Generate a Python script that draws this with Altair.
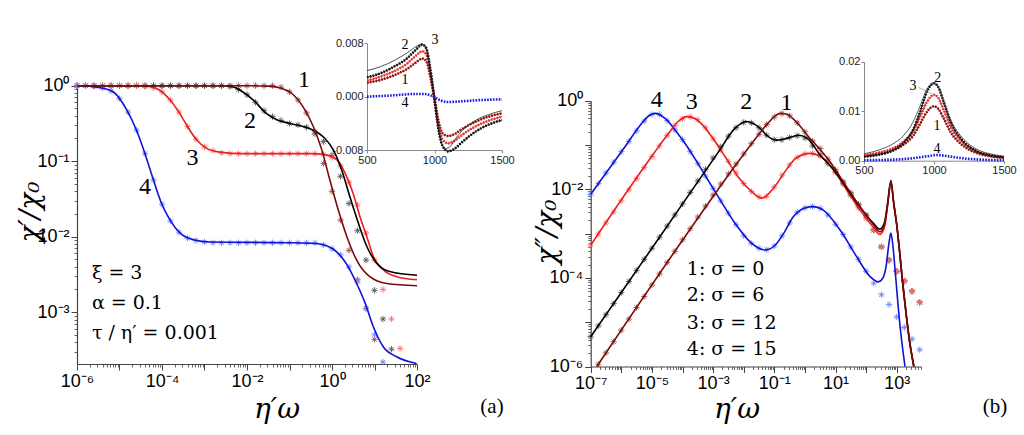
import altair as alt
import pandas as pd

SERIF = "Liberation Serif, Times New Roman, Times, serif"
GREEK = "DejaVu Serif, serif"
SANS = "Liberation Sans, Arial, sans-serif"
AX = "#444444"
IAX = "#8a8a8a"

# curve colours (lines) and asterisk colours
LC = {1: "#7a0a0a", 2: "#000000", 3: "#ee1c1c", 4: "#1010d8"}
PC = {1: "#a0544c", 2: "#5a5a5a", 3: "#ff6f6f", 4: "#6d88ff"}
DC = {1: "#8b1010", 2: "#111111", 3: "#e43030", 4: "#1a1ae0"}
AST = "M-1,0L1,0M0,-1L0,1M-0.7,-0.7L0.7,0.7M-0.7,0.7L0.7,-0.7"

# ---------------- Panel (a): log10(eta' omega) / log10(chi'/chi0)
A_L = {
    1: ([-6.0, -2.0, -1.5, -1.22, -0.91, -0.68, -0.44, -0.24, -0.05, 0.15, 0.35, 0.58, 0.89, 1.29, 2.0],
        [0.0, 0.0, -0.005, -0.03, -0.12, -0.28, -0.54, -0.85, -1.25, -1.65, -2.0, -2.31, -2.53, -2.62, -2.65]),
    2: ([-6.0, -2.6, -2.3, -2.16, -1.85, -1.54, -1.30, -0.99, -0.68, -0.44, -0.20, 0.03, 0.23, 0.42, 0.62, 0.82, 1.05, 1.36, 2.0],
        [0.0, 0.0, -0.02, -0.06, -0.19, -0.37, -0.45, -0.50, -0.54, -0.59, -0.68, -0.85, -1.12, -1.47, -1.82, -2.13, -2.35, -2.46, -2.51]),
    3: ([-6.0, -4.5, -4.3, -4.05, -3.81, -3.58, -3.38, -3.18, -2.95, -2.64, -2.09, -0.5, -0.2, 0.11, 0.31, 0.50, 0.66, 0.82, 0.97, 1.21, 1.52, 2.0],
        [0.0, 0.0, -0.01, -0.06, -0.19, -0.37, -0.56, -0.72, -0.83, -0.88, -0.90, -0.90, -0.91, -0.98, -1.16, -1.43, -1.74, -2.0, -2.26, -2.44, -2.53, -2.57]),
    4: ([-6.0, -5.7, -5.42, -5.15, -4.83, -4.60, -4.40, -4.20, -4.01, -3.81, -3.58, -3.26, -2.87, -1.0, -0.4, -0.125, 0.11, 0.35, 0.58, 0.78, 0.97, 1.21, 1.52, 1.99],
        [0.0, -0.005, -0.03, -0.08, -0.32, -0.59, -0.90, -1.25, -1.56, -1.78, -1.95, -2.04, -2.07, -2.08, -2.09, -2.12, -2.20, -2.37, -2.62, -2.88, -3.19, -3.46, -3.59, -3.68]),
}
A_PX = [-6.0, -5.8, -5.6, -5.4, -5.2, -5.0, -4.8, -4.6, -4.4, -4.2, -4.0, -3.8, -3.6, -3.4, -3.2, -3.0, -2.8,
        -2.6, -2.4, -2.2, -2.0, -1.8, -1.6, -1.4, -1.2, -1.0, -0.8, -0.6, -0.4, -0.2, 0.0, 0.2, 0.4, 0.6, 0.8,
        1.0, 1.2, 1.4, 1.6, 1.8, 2.0]
A_P = {
    1: [0.0] * 24 + [-0.02, -0.08, -0.19, -0.36, -0.64, -1.03, -1.40, -1.78, -2.18, -2.57, -2.95, -3.36] + [None] * 5,
    2: [0.0] * 18 + [-0.01, -0.05, -0.12, -0.22, -0.33, -0.41, -0.46, -0.50, -0.52, -0.55, -0.61, -0.74, -0.92,
                     -1.20, -1.56, -1.92, -2.31, -2.71, -3.09, -3.49] + [None] * 3,
    3: [0.0] * 8 + [-0.01, -0.03, -0.08, -0.19, -0.35, -0.54, -0.71, -0.81, -0.86, -0.89] + [-0.90] * 11
       + [-0.91, -0.95, -1.06, -1.28, -1.58, -1.95, -2.31, -2.70, -3.09, -3.48] + [None] * 2,
    4: [0.0, 0.0, -0.01, -0.03, -0.07, -0.17, -0.35, -0.59, -0.90, -1.25, -1.57, -1.79, -1.94, -2.02, -2.05, -2.07]
       + [-2.08] * 13 + [-2.11, -2.16, -2.24, -2.40, -2.60, -2.95, -3.30, -3.66] + [None] * 4,
}

# ---------------- Panel (b): log10(eta' omega) / log10(chi''/chi0)
B_L = {
    1: ([-6.80, -3.92, -2.28, -1.6, -1.2, -0.95, -0.81, -0.6, -0.4, -0.16, 0.1, 0.3, 0.82, 1.37, 1.91, 2.3, 2.45, 2.6, 2.7, 2.81, 2.9, 3.0, 3.22, 3.43, 3.56],
        [-6.0, -3.07, -1.47, -0.84, -0.5, -0.33, -0.285, -0.3, -0.4, -0.57, -0.8, -0.95, -1.38, -1.95, -2.5, -2.85, -2.96, -2.8, -2.35, -1.82, -2.3, -2.8, -4.27, -5.48, -6.0]),
    2: ([-7.0, -2.83, -2.28, -2.05, -1.90, -1.65, -1.41, -1.25, -0.92, -0.59, -0.2, 0.1, 0.49, 0.93, 1.37, 1.80, 2.24, 2.45, 2.6, 2.7, 2.81, 2.9, 3.0, 3.22, 3.43, 3.56],
        [-5.33, -1.16, -0.62, -0.5, -0.47, -0.53, -0.66, -0.78, -0.89, -0.85, -0.78, -0.86, -1.22, -1.55, -1.98, -2.40, -2.77, -2.90, -2.75, -2.33, -1.80, -2.3, -2.8, -4.27, -5.48, -6.0]),
    3: ([-7.0, -5.01, -4.46, -4.14, -3.86, -3.6, -3.3, -3.05, -2.61, -2.18, -1.74, -1.41, -1.0, -0.6, -0.3, 0.17, 0.49, 0.93, 1.37, 1.80, 2.24, 2.45, 2.6, 2.7, 2.81, 2.9, 3.0, 3.22, 3.43, 3.56],
        [-3.26, -1.26, -0.74, -0.47, -0.36, -0.40, -0.58, -0.81, -1.26, -1.72, -2.05, -2.20, -1.95, -1.55, -1.3, -1.19, -1.25, -1.56, -2.02, -2.47, -2.86, -3.02, -2.85, -2.38, -1.85, -2.3, -2.8, -4.27, -5.48, -6.0]),
    4: ([-7.0, -5.88, -5.33, -5.1, -4.9, -4.57, -4.2, -3.92, -3.37, -2.83, -2.28, -1.74, -1.30, -1.0, -0.7, -0.38, 0.0, 0.27, 0.6, 1.15, 1.69, 2.13, 2.40, 2.55, 2.65, 2.75, 2.81, 2.88, 2.95, 3.10, 3.27],
        [-2.11, -1.04, -0.51, -0.34, -0.285, -0.40, -0.70, -0.96, -1.56, -2.17, -2.77, -3.22, -3.37, -3.28, -3.0, -2.62, -2.42, -2.39, -2.47, -2.92, -3.52, -3.97, -4.09, -4.0, -3.75, -3.2, -2.99, -3.3, -3.85, -5.03, -6.0]),
}
B_PX = [-7.0, -6.75, -6.5, -6.25, -6.0, -5.75, -5.5, -5.25, -5.0, -4.75, -4.5, -4.25, -4.0, -3.75, -3.5, -3.25,
        -3.0, -2.75, -2.5, -2.25, -2.0, -1.75, -1.5, -1.25, -1.0, -0.75, -0.5, -0.25, 0.0, 0.25, 0.5, 0.75,
        1.0, 1.25, 1.5, 1.75, 2.0, 2.25, 2.5, 2.75, 3.0, 3.25, 3.5, 3.75]
B_P = {
    1: [None, -5.95, -5.69, -5.44, -5.18, -4.93, -4.67, -4.42, -4.16, -3.91, -3.65, -3.40, -3.14, -2.89, -2.63,
        -2.38, -2.13, -1.88, -1.65, -1.43, -1.20, -0.97, -0.76, -0.54, -0.37, -0.29, -0.34, -0.50, -0.70, -0.91,
        -1.08, -1.32, -1.56, -1.83, -2.08, -2.34, -2.60, -2.92, -3.30, -3.60, -3.85, -4.07, -4.30, -4.55],
    2: [-5.33, -5.08, -4.83, -4.58, -4.33, -4.08, -3.83, -3.58, -3.33, -3.08, -2.83, -2.58, -2.33, -2.07, -1.81,
        -1.55, -1.29, -1.04, -0.80, -0.61, -0.49, -0.50, -0.61, -0.78, -0.88, -0.88, -0.83, -0.79, -0.84, -1.02,
        -1.22, -1.41, -1.61, -1.86, -2.11, -2.36, -2.58, -2.92, -3.30, -3.60, -3.85, -4.07, -4.30, -4.55],
    3: [-3.26, -3.01, -2.76, -2.51, -2.26, -2.01, -1.76, -1.51, -1.26, -1.02, -0.78, -0.56, -0.41, -0.36, -0.43,
        -0.61, -0.86, -1.11, -1.37, -1.63, -1.87, -2.05, -2.17, -2.16, -1.95, -1.68, -1.45, -1.28, -1.20, -1.19,
        -1.25, -1.42, -1.62, -1.88, -2.14, -2.42, -2.66, -2.92, -3.30, -3.60, -3.85, -4.07, -4.30, -4.55],
    4: [-2.11, -1.87, -1.63, -1.39, -1.15, -0.92, -0.68, -0.46, -0.31, -0.31, -0.45, -0.66, -0.88, -1.15, -1.42,
        -1.70, -1.98, -2.26, -2.54, -2.80, -3.05, -3.22, -3.33, -3.36, -3.28, -3.05, -2.76, -2.52, -2.42, -2.39,
        -2.43, -2.58, -2.79, -3.02, -3.30, -3.58, -3.85, -4.12, -4.38, -4.60, -4.88, -5.12, -5.38, -5.62],
}

# ---------------- Inset (a): chi' vs frequency
IA_X = [500, 600, 700, 800, 860, 910, 940, 970, 1000, 1030, 1060, 1100, 1150, 1200, 1300, 1400, 1500]
IA_D = {
    2: [0.0029, 0.0035, 0.0045, 0.0058, 0.0070, 0.0078, 0.0072, 0.0040, -0.0005, -0.0050, -0.0074, -0.0082, -0.0078, -0.0069, -0.0053, -0.0042, -0.0035],
    3: [0.0024, 0.0030, 0.0038, 0.0050, 0.0061, 0.0068, 0.0063, 0.0035, -0.0004, -0.0043, -0.0064, -0.0070, -0.0066, -0.0058, -0.0045, -0.0036, -0.0030],
    1: [0.0021, 0.0025, 0.0032, 0.0042, 0.0051, 0.0057, 0.0053, 0.0029, -0.0003, -0.0037, -0.0055, -0.0059, -0.0056, -0.0049, -0.0038, -0.0030, -0.0025],
}
IA_T2_X = [500, 600, 700, 800, 870, 905, 935, 965, 1000, 1035, 1080, 1120, 1160, 1200, 1300, 1400, 1500]
IA_T2_Y = [0.0039, 0.0045, 0.0054, 0.0066, 0.0076, 0.0079, 0.0074, 0.0045, -0.0003, -0.0055, -0.0078, -0.0074, -0.0062, -0.0052, -0.0036, -0.0027, -0.0021]
IA_4_X = [500, 700, 850, 920, 970, 1000, 1050, 1100, 1200, 1350, 1500]
IA_4_Y = [0.0, 0.0002, 0.0004, 0.0004, 0.0002, -0.0001, -0.0006, -0.0008, -0.0007, -0.0005, -0.0004]

# ---------------- Inset (b): chi'' vs frequency
IB_X = [500, 600, 700, 780, 850, 900, 950, 1000, 1030, 1070, 1120, 1200, 1300, 1400, 1500]
IB_D = {
    2: [0.0008, 0.0012, 0.0020, 0.0035, 0.0062, 0.0098, 0.0140, 0.0156, 0.0149, 0.0118, 0.0078, 0.0042, 0.0020, 0.0011, 0.0007],
    3: [0.0011, 0.0016, 0.0024, 0.0038, 0.0060, 0.0088, 0.0119, 0.0133, 0.0127, 0.0102, 0.0068, 0.0038, 0.0019, 0.0010, 0.0007],
    1: [0.0009, 0.0013, 0.0020, 0.0032, 0.0050, 0.0074, 0.0099, 0.0110, 0.0105, 0.0085, 0.0057, 0.0032, 0.0016, 0.0009, 0.0006],
}
IB_T2_Y = [0.0014, 0.0021, 0.0033, 0.0050, 0.0078, 0.0110, 0.0145, 0.0158, 0.0150, 0.0120, 0.0082, 0.0047, 0.0024, 0.0014, 0.0009]
IB_4_X = [500, 700, 850, 950, 1020, 1100, 1200, 1350, 1500]
IB_4_Y = [0.0001, 0.0002, 0.0005, 0.0009, 0.00115, 0.0009, 0.0005, 0.0002, 0.0001]

# ---------------- tick labels
A_XE = [-6, -5, -4, -3, -2, -1, 0, 1, 2]
A_XLAB = ["10⁻⁶", "", "10⁻⁴", "", "10⁻²", "", "10⁰", "", "10²"]
A_YE = [-3, -2, -1, 0]
A_YLAB = ["10⁻³", "10⁻²", "10⁻¹", "10⁰"]
B_XE = [-7, -6, -5, -4, -3, -2, -1, 0, 1, 2, 3]
B_XLAB = ["10⁻⁷", "", "10⁻⁵", "", "10⁻³", "", "10⁻¹", "", "10¹", "", "10³"]
B_YE = [-6, -5, -4, -3, -2, -1, 0]
B_YLAB = ["10⁻⁶", "", "10⁻⁴", "", "10⁻²", "", "10⁰"]
IA_YV, IA_YLAB = [-0.008, 0.0, 0.008], ["-0.008", "0.000", "0.008"]
IA_XV, IA_XLAB = [500, 1000, 1500], ["500", "1000", "1500"]
IB_YV, IB_YLAB = [0.0, 0.01, 0.02], ["0.00", "0.01", "0.02"]

# ---------------- annotation texts (in data coordinates of each panel)
A_CURVE_T = ["1", "2", "3", "4"]
A_CURVE_LX = [-0.66, -1.93, -3.28, -4.40]
A_CURVE_LY = [0.075, -0.468, -0.958, -1.338]
A_PAR_T = ["ξ = 3", "α = 0.1", "τ / η′ = 0.001"]
A_PAR_LX = [-5.65, -5.65, -5.65]
A_PAR_LY = [-2.48, -2.88, -3.275]
B_CURVE_T = ["4", "3", "2", "1"]
B_CURVE_LX = [-4.84, -3.70, -1.92, -0.60]
B_CURVE_LY = [0.016, -0.023, -0.023, -0.059]
B_SIG_T = ["1: σ = 0", "2: σ = 6", "3: σ = 12", "4: σ = 15"]
B_SIG_LX = [-3.86, -3.86, -3.86, -3.86]
B_SIG_LY = [-3.80, -4.39, -5.02, -5.61]
IA_T = ["2", "3", "1", "4"]
IA_TX = [781, 1004, 781, 781]
IA_TY = [0.0077, 0.0085, 0.0025, -0.0009]
IB_T = ["2", "3", "1", "4"]
IB_TX = [1026, 850, 1021, 1021]
IB_TY = [0.0168, 0.0151, 0.0070, 0.0024]

# ---------------- scales (pixel ranges inside the 1024x435 canvas)
SA_X = alt.Scale(type="log", domain=[1e-6, 1e2], range=[77, 417], nice=False)
SA_Y = alt.Scale(type="log", domain=[10 ** -3.686, 1.0], range=[364, 85.7], nice=False)
SB_X = alt.Scale(type="log", domain=[1e-7, 10 ** 3.8], range=[590.7, 921.2], nice=False)
SB_Y = alt.Scale(type="log", domain=[1e-6, 1.0], range=[366.5, 100.7], nice=False)
SIA_X = alt.Scale(type="linear", domain=[500, 1500], range=[367, 502], nice=False, zero=False)
SIA_Y = alt.Scale(type="linear", domain=[-0.008, 0.008], range=[150, 43.3], nice=False, zero=False)
SIB_X = alt.Scale(type="linear", domain=[500, 1500], range=[864, 1004], nice=False, zero=False)
SIB_Y = alt.Scale(type="linear", domain=[0, 0.02], range=[160.7, 61.7], nice=False, zero=False)
H = 435


def chain(conds, labels):
    return "".join(f"{c} ? '{l}' : " for c, l in zip(conds, labels)) + "''"


def log_axis(orient, offset, exps, labels):
    expr = chain([f"round(log(datum.value)/LN10) == {e}" for e in exps], labels)
    return alt.Axis(orient=orient, offset=offset, values=[10.0 ** e for e in exps], labelExpr=expr,
                    title=None, grid=False, tickSize=6, tickWidth=1, tickColor=AX, domainColor=AX,
                    domainWidth=1.2, labelFont=SANS, labelFontSize=18, labelColor="black", labelPadding=2,
                    labelFlush=False, labelOverlap=False, labelBound=False)


def minor_axis(orient, offset, lo, hi):
    vals = []
    for e in range(-8, 5):
        for k in range(2, 10):
            v = k * 10.0 ** e
            if lo < v < hi:
                vals.append(v)
    return alt.Axis(orient=orient, offset=offset, values=vals, labels=False, domain=False, title=None,
                    grid=False, tickSize=3, tickWidth=0.8, tickColor=AX)


def lin_axis(orient, offset, vals, labels):
    expr = chain([f"abs(datum.value - ({v})) < 1e-9" for v in vals], labels)
    return alt.Axis(orient=orient, offset=offset, values=vals, labelExpr=expr, title=None, grid=False,
                    tickSize=3, tickColor=IAX, domainColor=IAX, domainWidth=1, labelFont=SANS,
                    labelFontSize=11, labelColor="#222222", labelPadding=1, labelFlush=False,
                    labelOverlap=False, labelBound=False)


def enc(sx, sy, ax=None, ay=None):
    return dict(x=alt.X("x:Q", scale=sx, axis=ax), y=alt.Y("y:Q", scale=sy, axis=ay))


def logdf(lx, ly):
    rows = [{"x": 10.0 ** a, "y": 10.0 ** b} for a, b in zip(lx, ly) if b is not None]
    return pd.DataFrame(rows)


def txtdf(t, xs, ys, logv=False):
    if logv:
        xs = [10.0 ** v for v in xs]
        ys = [10.0 ** v for v in ys]
    return pd.DataFrame({"t": t, "x": xs, "y": ys})


def text_layer(df, sx, sy, size, align="center", font=SERIF, color="black"):
    return alt.Chart(df).mark_text(font=font, fontSize=size, align=align, baseline="middle", color=color).encode(
        x=alt.X("x:Q", scale=sx, axis=None), y=alt.Y("y:Q", scale=sy, axis=None), text="t:N")


def fixed_text(t, px, py, size, angle=0, style="normal", font=SERIF):
    return alt.Chart(pd.DataFrame({"t": [t]})).mark_text(
        font=font, fontSize=size, fontStyle=style, angle=angle, align="center", baseline="middle",
        color="black").encode(x=alt.value(px), y=alt.value(py), text="t:N")


layers = []

# ---------- panel (a)
for c in [1, 2, 3, 4]:
    assert len(A_PX) == len(A_P[c])
    ax = minor_axis("bottom", 364 - H, 1e-6, 1e2) if c == 1 else None
    ay = minor_axis("left", -77, 10 ** -3.686, 1.0) if c == 1 else None
    layers.append(alt.Chart(logdf(A_PX, A_P[c])).mark_point(
        shape=AST, size=40, filled=False, strokeWidth=0.9, color=PC[c], opacity=1).encode(**enc(SA_X, SA_Y, ax, ay)))
for c in [4, 3, 2, 1]:
    ax = log_axis("bottom", 364 - H, A_XE, A_XLAB) if c == 4 else None
    ay = log_axis("left", -77, A_YE, A_YLAB) if c == 4 else None
    layers.append(alt.Chart(logdf(*A_L[c])).mark_line(
        interpolate="monotone", strokeWidth=1.6, color=LC[c]).encode(**enc(SA_X, SA_Y, ax, ay)))
layers.append(text_layer(txtdf(A_CURVE_T, A_CURVE_LX, A_CURVE_LY, True), SA_X, SA_Y, 24))
layers.append(text_layer(txtdf(A_PAR_T, A_PAR_LX, A_PAR_LY, True), SA_X, SA_Y, 19, align="left", font=GREEK))

# ---------- panel (b)
for c in [1, 2, 3, 4]:
    assert len(B_PX) == len(B_P[c])
    ax = minor_axis("bottom", 366.5 - H, 1e-7, 10 ** 3.8) if c == 1 else None
    ay = minor_axis("left", -590.7, 1e-6, 1.0) if c == 1 else None
    layers.append(alt.Chart(logdf(B_PX, B_P[c])).mark_point(
        shape=AST, size=40, filled=False, strokeWidth=0.9, color=PC[c], opacity=1).encode(**enc(SB_X, SB_Y, ax, ay)))
for c in [4, 3, 2, 1]:
    ax = log_axis("bottom", 366.5 - H, B_XE, B_XLAB) if c == 4 else None
    ay = log_axis("left", -590.7, B_YE, B_YLAB) if c == 4 else None
    layers.append(alt.Chart(logdf(*B_L[c])).mark_line(
        interpolate="monotone", strokeWidth=1.6, color=LC[c]).encode(**enc(SB_X, SB_Y, ax, ay)))
layers.append(text_layer(txtdf(B_CURVE_T, B_CURVE_LX, B_CURVE_LY, True), SB_X, SB_Y, 24))
layers.append(text_layer(txtdf(B_SIG_T, B_SIG_LX, B_SIG_LY, True), SB_X, SB_Y, 19, align="left", font=GREEK))

# ---------- inset (a)
first = True
for c in [1, 3, 2]:
    ax = lin_axis("bottom", 150 - H, IA_XV, IA_XLAB) if first else None
    ay = lin_axis("left", -367, IA_YV, IA_YLAB) if first else None
    first = False
    df = pd.DataFrame({"x": IA_X, "y": IA_D[c]})
    layers.append(alt.Chart(df).mark_line(interpolate="monotone", strokeWidth=0.8, color=LC[c]).encode(
        **enc(SIA_X, SIA_Y, ax, ay)))
    layers.append(alt.Chart(df).mark_line(interpolate="monotone", strokeWidth=2.6, strokeDash=[1.6, 1.3],
                                          color=DC[c]).encode(**enc(SIA_X, SIA_Y)))
layers.append(alt.Chart(pd.DataFrame({"x": IA_T2_X, "y": IA_T2_Y})).mark_line(
    interpolate="monotone", strokeWidth=0.8, color="#222222").encode(**enc(SIA_X, SIA_Y)))
layers.append(alt.Chart(pd.DataFrame({"x": IA_4_X, "y": IA_4_Y})).mark_line(
    interpolate="monotone", strokeWidth=2.6, strokeDash=[1.6, 1.3], color=DC[4]).encode(**enc(SIA_X, SIA_Y)))
layers.append(text_layer(txtdf(IA_T, IA_TX, IA_TY), SIA_X, SIA_Y, 14))

# ---------- inset (b)
first = True
for c in [1, 3, 2]:
    ax = lin_axis("bottom", 160.7 - H, IA_XV, IA_XLAB) if first else None
    ay = lin_axis("left", -864, IB_YV, IB_YLAB) if first else None
    first = False
    df = pd.DataFrame({"x": IB_X, "y": IB_D[c]})
    layers.append(alt.Chart(df).mark_line(interpolate="monotone", strokeWidth=0.8, color=LC[c]).encode(
        **enc(SIB_X, SIB_Y, ax, ay)))
    layers.append(alt.Chart(df).mark_line(interpolate="monotone", strokeWidth=2.6, strokeDash=[1.6, 1.3],
                                          color=DC[c]).encode(**enc(SIB_X, SIB_Y)))
layers.append(alt.Chart(pd.DataFrame({"x": IB_X, "y": IB_T2_Y})).mark_line(
    interpolate="monotone", strokeWidth=0.8, color="#333333").encode(**enc(SIB_X, SIB_Y)))
layers.append(alt.Chart(pd.DataFrame({"x": IB_4_X, "y": IB_4_Y})).mark_line(
    interpolate="monotone", strokeWidth=2.6, strokeDash=[1.6, 1.3], color=DC[4]).encode(**enc(SIB_X, SIB_Y)))
layers.append(text_layer(txtdf(IB_T, IB_TX, IB_TY), SIB_X, SIB_Y, 14))
layers.append(alt.Chart(pd.DataFrame({"x": [890], "y": [0.0148], "x2": [985], "y2": [0.0135]})).mark_rule(
    strokeWidth=0.6, color="#777777").encode(
    x=alt.X("x:Q", scale=SIB_X, axis=None), y=alt.Y("y:Q", scale=SIB_Y, axis=None), x2="x2:Q", y2="y2:Q"))

# ---------- axis titles and panel tags
layers.append(fixed_text("χ′/χ₀", 31, 212, 28, angle=270, style="italic", font=GREEK))
layers.append(fixed_text("η′ω", 277, 410, 28, style="italic", font=GREEK))
layers.append(fixed_text("(a)", 492, 407, 21))
layers.append(fixed_text("χ″/χ₀", 548, 232, 28, angle=270, style="italic", font=GREEK))
layers.append(fixed_text("η′ω", 737, 410, 28, style="italic", font=GREEK))
layers.append(fixed_text("(b)", 995, 407, 21))

chart = alt.layer(*layers).resolve_scale(x="independent", y="independent").resolve_axis(
    x="independent", y="independent").properties(
    width=1024, height=435, autosize=alt.AutoSizeParams(type="none"), padding=0, background="white"
).configure_view(stroke=None)

chart.save("out.html", embed_options={"renderer": "svg", "actions": False})
